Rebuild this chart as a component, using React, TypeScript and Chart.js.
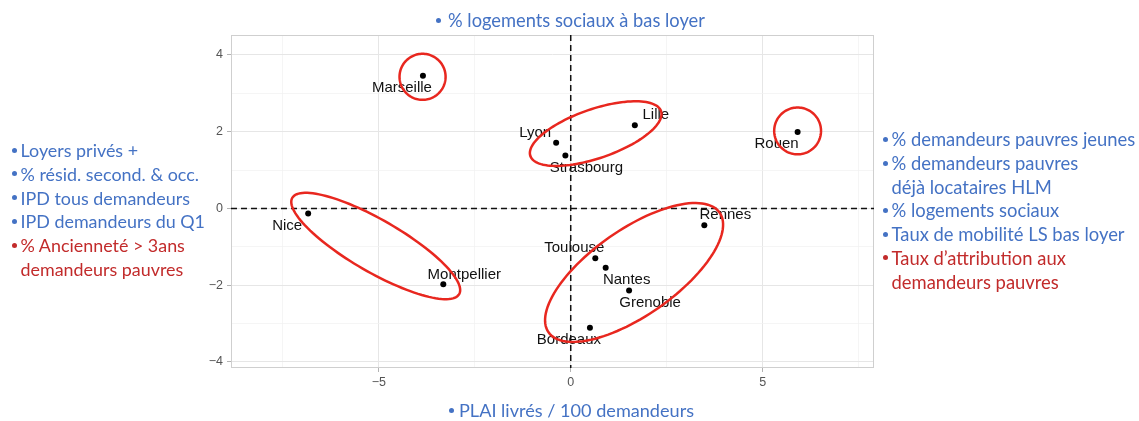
import React, { useEffect, useRef } from "react";
import { Chart, registerables } from "chart.js";

Chart.register(...registerables);

// ---------- data ----------
const cities = ["Marseille", "Lille", "Lyon", "Strasbourg", "Rouen", "Nice", "Montpellier", "Rennes", "Toulouse", "Nantes", "Grenoble", "Bordeaux"];
const dim1 = [-3.85, 1.67, -0.38, -0.14, 5.91, -6.84, -3.32, 3.48, 0.64, 0.91, 1.52, 0.5];
const dim2 = [3.46, 2.17, 1.71, 1.38, 1.99, -0.13, -1.98, -0.44, -1.3, -1.55, -2.14, -3.11];
const labelSide = ["bl", "tr", "tl", "br", "bl", "bl", "tr", "tr", "tl", "br", "br", "bl"];

const xMajorTicks = [-5, 0, 5];
const xMinorTicks = [-7.5, -2.5, 2.5, 7.5];
const yMajorTicks = [-4, -2, 0, 2, 4];
const yMinorTicks = [-3, -1, 1, 3];
const xLimits = [-8.85, 7.9];
const yLimits = [-4.16, 4.52];

// highlighted groups (ellipses, in data units)
const ellipseCx = [-3.86, 5.91, 0.65, -5.08, 1.65];
const ellipseCy = [3.43, 2.02, 1.95, -0.98, -1.67];
const ellipseA = [0.6, 0.61, 1.8, 2.51, 2.72];
const ellipseB = [0.6, 0.61, 0.64, 0.68, 1.12];
const ellipseAngle = [0, 0, 19, -30, 35];

const topText = "% logements sociaux à bas loyer";
const bottomText = "PLAI livrés / 100 demandeurs";
const leftItems = [
  ["Loyers privés +"],
  ["% résid. second. & occ."],
  ["IPD tous demandeurs"],
  ["IPD demandeurs du Q1"],
  ["% Ancienneté > 3ans", "demandeurs pauvres"],
];
const leftColors = ["blue", "blue", "blue", "blue", "red"];
const rightItems = [
  ["% demandeurs pauvres jeunes"],
  ["% demandeurs pauvres", "déjà locataires HLM"],
  ["% logements sociaux"],
  ["Taux de mobilité LS bas loyer"],
  ["Taux d’attribution aux", "demandeurs pauvres"],
];
const rightColors = ["blue", "blue", "blue", "blue", "red"];

// ---------- styles ----------
const W = 1139;
const H = 421;
const BLUE = "#4472c4";
const RED = "#c22b2b";
const ELLIPSE_RED = "#e8271f";
const SIDE_FONT = "Lato, 'Open Sans', sans-serif";

const fmt = (v: number) => (v < 0 ? "\u2212" + Math.abs(v) : String(v));

const overlayPlugin = {
  id: "overlay",
  beforeDatasetsDraw(chart: any) {
    const { ctx, chartArea: ca, scales } = chart;
    const x = scales.x;
    const y = scales.y;
    ctx.save();
    ctx.strokeStyle = "#cfcfcf";
    ctx.lineWidth = 1;
    ctx.strokeRect(ca.left + 0.5, ca.top + 0.5, ca.right - ca.left - 1, ca.bottom - ca.top - 1);
    ctx.strokeStyle = "#111";
    ctx.lineWidth = 1.5;
    ctx.setLineDash([6, 4]);
    const x0 = x.getPixelForValue(0);
    const y0 = y.getPixelForValue(0);
    ctx.beginPath();
    ctx.moveTo(ca.left, y0);
    ctx.lineTo(ca.right, y0);
    ctx.stroke();
    ctx.beginPath();
    ctx.moveTo(x0, ca.top);
    ctx.lineTo(x0, ca.bottom);
    ctx.stroke();
    ctx.restore();
  },
  afterDatasetsDraw(chart: any) {
    const { ctx, scales } = chart;
    const x = scales.x;
    const y = scales.y;
    ctx.save();
    ctx.fillStyle = "#111";
    ctx.font = "15px 'Liberation Sans', Arial, sans-serif";
    ctx.textAlign = "center";
    ctx.textBaseline = "middle";
    cities.forEach((c, i) => {
      const px = x.getPixelForValue(dim1[i]);
      const py = y.getPixelForValue(dim2[i]);
      const s = labelSide[i];
      const dx = s[1] === "r" ? 21 : -21;
      const dy = s[0] === "t" ? -10 : 12;
      ctx.fillText(c, px + dx, py + dy);
    });
    ctx.strokeStyle = ELLIPSE_RED;
    ctx.lineWidth = 2.5;
    ellipseCx.forEach((cx, k) => {
      const th = (ellipseAngle[k] * Math.PI) / 180;
      const a = ellipseA[k];
      const b = ellipseB[k];
      const cy = ellipseCy[k];
      ctx.beginPath();
      const n = 120;
      for (let j = 0; j <= n; j++) {
        const t = (j / n) * Math.PI * 2;
        const dxv = a * Math.cos(th) * Math.cos(t) - b * Math.sin(th) * Math.sin(t);
        const dyv = a * Math.sin(th) * Math.cos(t) + b * Math.cos(th) * Math.sin(t);
        const px = x.getPixelForValue(cx + dxv);
        const py = y.getPixelForValue(cy + dyv);
        if (j === 0) ctx.moveTo(px, py);
        else ctx.lineTo(px, py);
      }
      ctx.closePath();
      ctx.stroke();
    });
    ctx.restore();
  },
};

function makeTicks(major: number[], minor: number[]) {
  return [...major, ...minor].sort((p, q) => p - q).map((v) => ({ value: v }));
}

function axis(major: number[], minor: number[], lim: number[], isX: boolean) {
  return {
    type: "linear" as const,
    min: lim[0],
    max: lim[1],
    afterBuildTicks: (s: any) => {
      s.ticks = makeTicks(major, minor);
    },
    afterFit: (s: any) => {
      if (isX) s.height = 53;
      else s.width = 231;
    },
    border: { display: false },
    grid: {
      color: (c: any) => (c.tick && major.includes(c.tick.value) ? "#e6e6e6" : "#f1f1f1"),
      lineWidth: (c: any) => (c.tick && major.includes(c.tick.value) ? 1 : 0.7),
      tickLength: 4,
      tickColor: (c: any) => (c.tick && major.includes(c.tick.value) ? "#b3b3b3" : "rgba(0,0,0,0)"),
    },
    ticks: {
      autoSkip: false,
      maxRotation: 0,
      padding: isX ? 3 : 4,
      color: "#555",
      font: { size: 12.5, family: "'Liberation Sans', Arial, sans-serif" },
      callback: (v: any) => (major.includes(Number(v)) ? fmt(Number(v)) : ""),
    },
  };
}

function Bullet({ color, gap }: any) {
  return (
    <span
      style={{
        position: "absolute",
        left: -gap - 2.5,
        top: 11 - 2.5,
        width: 5,
        height: 5,
        borderRadius: "50%",
        background: color,
      }}
    />
  );
}

function Line({ text, color, left, cy, bullet, gap, size }: any) {
  return (
    <div
      style={{
        position: "absolute",
        left,
        top: cy - 11,
        height: 22,
        lineHeight: "22px",
        whiteSpace: "nowrap",
        color,
        fontFamily: SIDE_FONT,
        fontSize: size,
      }}
    >
      {bullet && <Bullet color={color} gap={gap} />}
      {text}
    </div>
  );
}

function SideBlock({ items, colors, left, top0, step, gap, size }: any) {
  const out: any[] = [];
  let line = 0;
  items.forEach((lines: string[], i: number) => {
    const color = colors[i] === "red" ? RED : BLUE;
    lines.forEach((t, j) => {
      out.push(
        <Line key={i + "-" + j} text={t} color={color} left={left} cy={top0 + line * step} bullet={j === 0} gap={gap} size={size} />
      );
      line++;
    });
  });
  return <>{out}</>;
}

export default function App() {
  const ref = useRef<HTMLCanvasElement>(null);
  useEffect(() => {
    if (!ref.current) return;
    const chart = new Chart(ref.current, {
      type: "scatter",
      data: {
        datasets: [
          {
            data: dim1.map((v, i) => ({ x: v, y: dim2[i] })),
            pointRadius: 3,
            pointBackgroundColor: "#000",
            pointBorderWidth: 0,
          },
        ],
      },
      options: {
        animation: false,
        responsive: false,
        layout: { padding: { left: 0, top: 35, right: W - 874, bottom: 0 } },
        plugins: { legend: { display: false }, tooltip: { enabled: false } },
        scales: {
          x: axis(xMajorTicks, xMinorTicks, xLimits, true),
          y: axis(yMajorTicks, yMinorTicks, yLimits, false),
        },
      },
      plugins: [overlayPlugin],
    });
    return () => chart.destroy();
  }, []);
  return (
    <div style={{ position: "absolute", left: 0, top: 0, width: W, height: H, background: "#fff", overflow: "hidden" }}>
      <canvas ref={ref} width={W} height={H} style={{ position: "absolute", left: 0, top: 0, width: W, height: H }} />
      <Line text={topText} color={BLUE} left={448} cy={20} bullet gap={10} size={18.3} />
      <Line text={bottomText} color={BLUE} left={459} cy={410} bullet gap={7.5} size={18.1} />
      <SideBlock items={leftItems} colors={leftColors} left={20.5} top0={150} step={23.8} gap={5.7} size={17.9} />
      <SideBlock items={rightItems} colors={rightColors} left={891.5} top0={139.3} step={23.7} gap={5.7} size={18.4} />
    </div>
  );
}
